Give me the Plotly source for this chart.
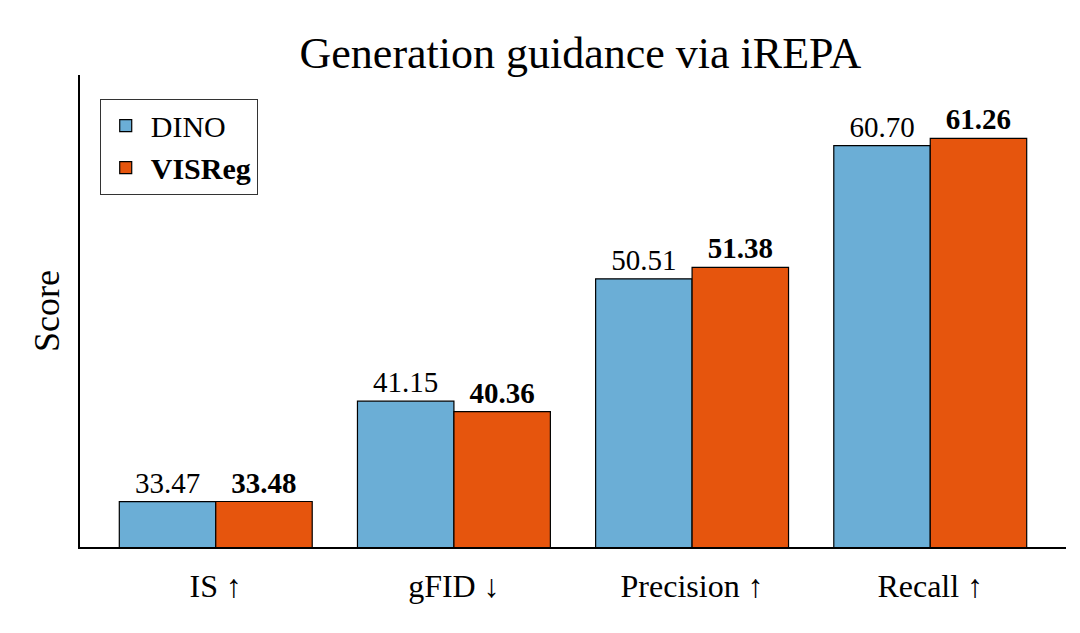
import plotly.graph_objects as go

# Metrics and scores
categories = ['IS ↑', 'gFID ↓', 'Precision ↑', 'Recall ↑']
dino_scores = [33.47, 41.15, 50.51, 60.70]
visreg_scores = [33.48, 40.36, 51.38, 61.26]

font_family = 'Liberation Serif, Times New Roman, serif'

fig = go.Figure()
fig.add_trace(go.Bar(
    x=categories, y=dino_scores, name='DINO',
    marker=dict(color='#6baed6', line=dict(color='black', width=1.2)),
    text=[f'{v:.2f}' for v in dino_scores], textposition='outside',
    textfont=dict(size=29, color='black'), cliponaxis=False,
))
fig.add_trace(go.Bar(
    x=categories, y=visreg_scores, name='<b>VISReg</b>',
    marker=dict(color='#e6550d', line=dict(color='black', width=1.2)),
    text=[f'<b>{v:.2f}</b>' for v in visreg_scores], textposition='outside',
    textfont=dict(size=29, color='black'), cliponaxis=False,
))

fig.update_layout(
    width=1080, height=633,
    barmode='group', bargap=0.19, bargroupgap=0,
    plot_bgcolor='white', paper_bgcolor='white',
    font=dict(family=font_family, color='black'),
    title=dict(text='Generation guidance via iREPA', x=0.53, xanchor='center',
               y=0.93, yanchor='middle', font=dict(size=44)),
    margin=dict(l=72, r=22, t=67, b=94),
    xaxis=dict(range=[-0.57, 3.57], showline=True, linecolor='black', linewidth=1.5,
               ticks='', tickfont=dict(size=32), ticklabelstandoff=10),
    yaxis=dict(range=[30, 66.1], showline=True, linecolor='black', linewidth=1.5,
               showticklabels=False, ticks='', showgrid=False, zeroline=False,
               title=dict(text='Score', font=dict(size=36), standoff=8)),
    legend=dict(x=0.02, y=0.95, xanchor='left', yanchor='top',
                bordercolor='#333', borderwidth=1, bgcolor='white',
                font=dict(size=30), itemwidth=40),
)

fig.write_html('out.html')
